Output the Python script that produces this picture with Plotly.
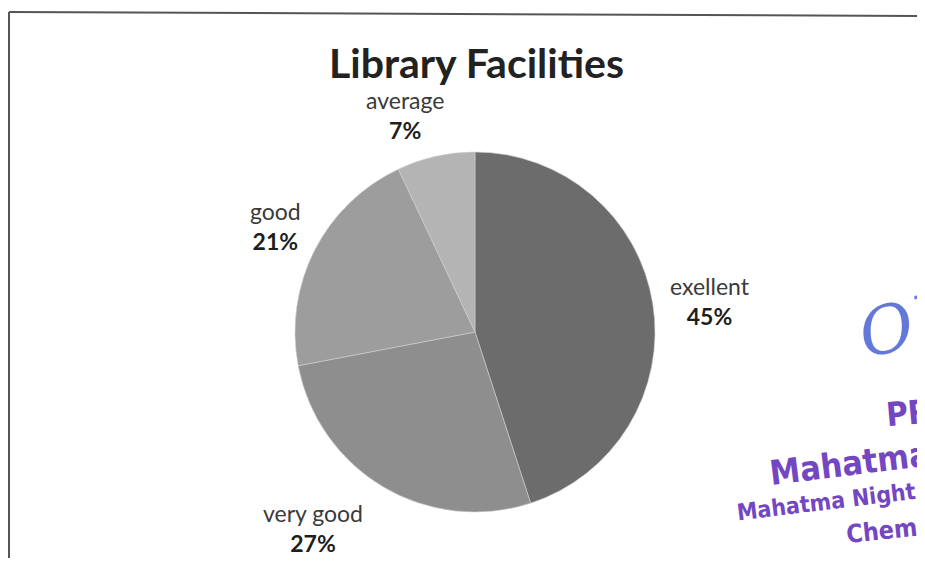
import plotly.graph_objects as go

labels = ["exellent", "very good", "good", "average"]
values = [45, 27, 21, 7]
colors = ["#6c6c6c", "#8e8e8e", "#9d9d9d", "#b4b4b4"]
# label anchor positions (reference px, from top-left of page)
label_pos = [(710, 301), (313, 528), (275, 226), (405, 115)]

# the page body has an 8px margin; the figure is sized and positioned to compensate
OFF = 8
W, H = 925 - OFF, 566 - 2 * OFF


def px(x):
    return (x - OFF) / W


def py(y):
    return 1 - (y - OFF) / H


cx, cy, R = 475, 332, 180

fig = go.Figure(go.Pie(
    labels=labels, values=values, sort=False, direction="clockwise", rotation=0,
    marker=dict(colors=colors, line=dict(color="#cfcfcf", width=0.6)),
    textinfo="none", hoverinfo="label+percent", showlegend=False,
    domain=dict(x=[px(cx - R), px(cx + R)], y=[py(cy + R), py(cy - R)]),
))

annots = []
for lab, val, (lx, ly) in zip(labels, values, label_pos):
    annots.append(dict(
        x=px(lx), y=py(ly), xref="paper", yref="paper", showarrow=False,
        xanchor="center", yanchor="middle",
        text=f"<span style='color:#3a3a3a'>{lab}</span><br><b>{val}%</b>", align="center",
        font=dict(family="Lato, Open Sans, sans-serif", size=23, color="#1e1e1e"),
    ))
annots.append(dict(x=px(477), y=py(63), xref="paper", yref="paper", showarrow=False,
                   xanchor="center", yanchor="middle",
                   text="<b>Library Facilities</b>",
                   font=dict(family="Lato, Open Sans, sans-serif", size=41, color="#222")))
# stamp / signature
stamp_color = "#7447c2"
narrow = "Liberation Sans Narrow, DejaVu Sans Condensed, sans-serif"
annots += [
    dict(x=px(850), y=py(325), xref="paper", yref="paper", showarrow=False,
         xanchor="left", yanchor="middle",
         text="<i>Oh</i>", textangle=-12,
         font=dict(family="DejaVu Serif, serif", size=66, color="#6478d8")),
    dict(x=px(882), y=py(412), xref="paper", yref="paper", showarrow=False,
         xanchor="left", yanchor="middle",
         text="<b>PRI</b>", textangle=-5,
         font=dict(family=narrow, size=33, color=stamp_color)),
    dict(x=px(765), y=py(460), xref="paper", yref="paper", showarrow=False,
         xanchor="left", yanchor="middle",
         text="<b>Mahatma Ed</b>", textangle=-7,
         font=dict(family=narrow, size=34, color=stamp_color)),
    dict(x=px(733), y=py(497), xref="paper", yref="paper", showarrow=False,
         xanchor="left", yanchor="middle",
         text="<b>Mahatma Night Degre</b>", textangle=-7,
         font=dict(family=narrow, size=23, color=stamp_color)),
    dict(x=px(843), y=py(528), xref="paper", yref="paper", showarrow=False,
         xanchor="left", yanchor="middle",
         text="<b>Chembur</b>", textangle=-6,
         font=dict(family=narrow, size=25, color=stamp_color)),
]

shapes = [
    dict(type="line", xref="paper", yref="paper", x0=px(9), x1=1.01, y0=py(12), y1=py(16),
         line=dict(color="#555", width=2)),
    dict(type="line", xref="paper", yref="paper", x0=px(9), x1=px(9), y0=py(12), y1=0,
         line=dict(color="#555", width=2)),
]

fig.update_layout(
    width=W, height=H, margin=dict(l=0, r=0, t=0, b=0),
    paper_bgcolor="white", plot_bgcolor="white",
    annotations=annots, shapes=shapes,
)
fig.write_html("out.html")
